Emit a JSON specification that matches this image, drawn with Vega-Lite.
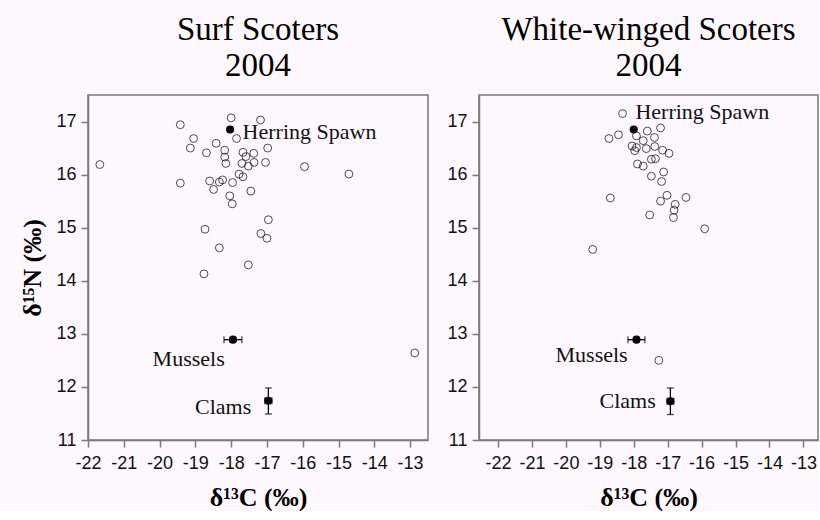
{
  "$schema": "https://vega.github.io/schema/vega-lite/v6.json",
  "background": "#fdf8fd",
  "padding": {"left": 19, "top": 13, "right": 0, "bottom": 0},
  "spacing": 17,
  "config": {
    "view": {"stroke": "#7a7a7a", "strokeWidth": 1.5},
    "axis": {
      "grid": false, "domainColor": "#7a7a7a", "domainWidth": 1.5, "tickColor": "#7a7a7a", "tickWidth": 1.5, "tickSize": 7,
      "labelFont": "Liberation Sans", "labelFontSize": 18, "labelColor": "#111111", "labelOverlap": false, "labelFlush": false,
      "titleFont": "Liberation Serif", "titleFontSize": 26, "titleFontWeight": "bold", "titleColor": "#000000"
    },
    "axisX": {"labelPadding": 7, "titlePadding": 12},
    "axisY": {"labelPadding": 5, "titlePadding": 10},
    "title": {"font": "Liberation Serif", "fontSize": 33, "fontWeight": "normal", "color": "#000000", "lineHeight": 36, "offset": 12, "anchor": "middle"},
    "text": {"font": "Liberation Serif", "fontSize": 22, "color": "#111111"}
  },
  "hconcat": [
    {
      "width": 340,
      "height": 345,
      "title": {"text": ["Surf Scoters", "2004"]},
      "layer": [
        {
          "data": {"values": [
            {"x": -21.67, "y": 16.19}, {"x": -19.42, "y": 16.94}, {"x": -18.0, "y": 17.07}, {"x": -17.18, "y": 17.03},
            {"x": -17.85, "y": 16.68}, {"x": -19.05, "y": 16.68}, {"x": -19.14, "y": 16.5}, {"x": -18.42, "y": 16.59},
            {"x": -18.69, "y": 16.41}, {"x": -18.18, "y": 16.46}, {"x": -18.18, "y": 16.33}, {"x": -18.15, "y": 16.21},
            {"x": -17.67, "y": 16.42}, {"x": -17.59, "y": 16.34}, {"x": -17.37, "y": 16.4}, {"x": -16.98, "y": 16.5},
            {"x": -17.7, "y": 16.21}, {"x": -17.52, "y": 16.16}, {"x": -17.36, "y": 16.23}, {"x": -17.04, "y": 16.23},
            {"x": -15.95, "y": 16.15}, {"x": -14.71, "y": 16.01}, {"x": -19.42, "y": 15.84}, {"x": -18.6, "y": 15.88},
            {"x": -18.24, "y": 15.9}, {"x": -18.49, "y": 15.72}, {"x": -17.96, "y": 15.85}, {"x": -17.78, "y": 16.01},
            {"x": -17.67, "y": 15.96}, {"x": -17.45, "y": 15.69}, {"x": -18.04, "y": 15.6}, {"x": -17.97, "y": 15.45},
            {"x": -16.96, "y": 15.15}, {"x": -18.73, "y": 14.97}, {"x": -17.17, "y": 14.89}, {"x": -17.0, "y": 14.8},
            {"x": -18.33, "y": 14.62}, {"x": -17.52, "y": 14.3}, {"x": -18.76, "y": 14.13}, {"x": -18.33, "y": 15.86},
            {"x": -12.87, "y": 12.64}
          ]},
          "mark": {"type": "point", "shape": "circle", "filled": false, "color": "#000000", "size": 62, "strokeWidth": 1},
          "encoding": {
            "x": {"field": "x", "type": "quantitative", "scale": {"domain": [-22, -12.5], "nice": false, "zero": false},
                  "axis": {"title": "δ¹³C (‰)", "values": [-22, -21, -20, -19, -18, -17, -16, -15, -14, -13], "labelExpr": "'' + datum.value", "labelOverlap": false}},
            "y": {"field": "y", "type": "quantitative", "scale": {"domain": [11, 17.5], "nice": false, "zero": false},
                  "axis": {"title": "δ¹⁵N (‰)", "values": [11, 12, 13, 14, 15, 16, 17], "labelOverlap": false}}
          }
        },
        {
          "data": {"values": [
            {"name": "Mussels", "x": -18.2, "x2": -17.7, "y": 12.89},
            {"name": "Clams", "x": -17.06, "x2": -16.86, "y": 11.74}
          ]},
          "mark": {"type": "errorbar", "ticks": {"size": 7, "color": "#000000", "thickness": 1.3}, "rule": {"color": "#000000", "strokeWidth": 1.3}},
          "encoding": {
            "x": {"field": "x", "type": "quantitative", "scale": {"domain": [-22, -12.5], "nice": false, "zero": false},
                  "axis": {"title": "δ¹³C (‰)", "values": [-22, -21, -20, -19, -18, -17, -16, -15, -14, -13], "labelExpr": "'' + datum.value", "labelOverlap": false}},
            "x2": {"field": "x2"},
            "y": {"field": "y", "type": "quantitative", "scale": {"domain": [11, 17.5], "nice": false, "zero": false},
                  "axis": {"title": "δ¹⁵N (‰)", "values": [11, 12, 13, 14, 15, 16, 17], "labelOverlap": false}}
          }
        },
        {
          "data": {"values": [
            {"name": "Mussels", "x": -17.95, "y": 12.85, "y2": 12.93},
            {"name": "Clams", "x": -16.96, "y": 11.49, "y2": 11.98}
          ]},
          "mark": {"type": "errorbar", "ticks": {"size": 7, "color": "#000000", "thickness": 1.3}, "rule": {"color": "#000000", "strokeWidth": 1.3}},
          "encoding": {
            "x": {"field": "x", "type": "quantitative", "scale": {"domain": [-22, -12.5], "nice": false, "zero": false},
                  "axis": {"title": "δ¹³C (‰)", "values": [-22, -21, -20, -19, -18, -17, -16, -15, -14, -13], "labelExpr": "'' + datum.value", "labelOverlap": false}},
            "y": {"field": "y", "type": "quantitative", "scale": {"domain": [11, 17.5], "nice": false, "zero": false},
                  "axis": {"title": "δ¹⁵N (‰)", "values": [11, 12, 13, 14, 15, 16, 17], "labelOverlap": false}},
            "y2": {"field": "y2"}
          }
        },
        {
          "data": {"values": [
            {"name": "Herring Spawn", "x": -18.03, "y": 16.85},
            {"name": "Mussels", "x": -17.95, "y": 12.89},
            {"name": "Clams", "x": -16.96, "y": 11.74}
          ]},
          "mark": {"type": "point", "shape": "circle", "filled": true, "color": "#000000", "opacity": 1, "size": 66},
          "encoding": {
            "x": {"field": "x", "type": "quantitative", "scale": {"domain": [-22, -12.5], "nice": false, "zero": false},
                  "axis": {"title": "δ¹³C (‰)", "values": [-22, -21, -20, -19, -18, -17, -16, -15, -14, -13], "labelExpr": "'' + datum.value", "labelOverlap": false}},
            "y": {"field": "y", "type": "quantitative", "scale": {"domain": [11, 17.5], "nice": false, "zero": false},
                  "axis": {"title": "δ¹⁵N (‰)", "values": [11, 12, 13, 14, 15, 16, 17], "labelOverlap": false}}
          }
        },
        {
          "data": {"values": [
            {"label": "Herring Spawn", "x": -17.68, "y": 16.81, "side": "left"},
            {"label": "Mussels", "x": -18.18, "y": 12.53, "side": "right"},
            {"label": "Clams", "x": -17.44, "y": 11.62, "side": "right"}
          ]},
          "mark": {"type": "text", "baseline": "middle", "align": {"expr": "datum.side"}},
          "encoding": {
            "x": {"field": "x", "type": "quantitative", "scale": {"domain": [-22, -12.5], "nice": false, "zero": false},
                  "axis": {"title": "δ¹³C (‰)", "values": [-22, -21, -20, -19, -18, -17, -16, -15, -14, -13], "labelExpr": "'' + datum.value", "labelOverlap": false}},
            "y": {"field": "y", "type": "quantitative", "scale": {"domain": [11, 17.5], "nice": false, "zero": false},
                  "axis": {"title": "δ¹⁵N (‰)", "values": [11, 12, 13, 14, 15, 16, 17], "labelOverlap": false}},
            "text": {"field": "label"}
          }
        }
      ]
    },
    {
      "width": 339,
      "height": 345,
      "title": {"text": ["White-winged Scoters", "2004"]},
      "layer": [
        {
          "data": {"values": [
            {"x": -18.33, "y": 17.15}, {"x": -18.73, "y": 16.68}, {"x": -18.45, "y": 16.75}, {"x": -17.6, "y": 16.82},
            {"x": -17.21, "y": 16.88}, {"x": -17.92, "y": 16.73}, {"x": -17.39, "y": 16.7}, {"x": -17.72, "y": 16.64},
            {"x": -18.05, "y": 16.54}, {"x": -17.92, "y": 16.51}, {"x": -17.97, "y": 16.45}, {"x": -17.63, "y": 16.49},
            {"x": -17.38, "y": 16.53}, {"x": -17.15, "y": 16.46}, {"x": -16.96, "y": 16.4}, {"x": -17.48, "y": 16.29},
            {"x": -17.36, "y": 16.3}, {"x": -17.89, "y": 16.2}, {"x": -17.72, "y": 16.16}, {"x": -17.12, "y": 16.05},
            {"x": -17.48, "y": 15.97}, {"x": -17.18, "y": 15.87}, {"x": -18.69, "y": 15.56}, {"x": -17.02, "y": 15.61},
            {"x": -16.46, "y": 15.57}, {"x": -17.21, "y": 15.5}, {"x": -16.78, "y": 15.44}, {"x": -16.81, "y": 15.33},
            {"x": -16.83, "y": 15.19}, {"x": -17.53, "y": 15.24}, {"x": -15.91, "y": 14.98}, {"x": -19.21, "y": 14.59},
            {"x": -17.26, "y": 12.5}
          ]},
          "mark": {"type": "point", "shape": "circle", "filled": false, "color": "#000000", "size": 62, "strokeWidth": 1},
          "encoding": {
            "x": {"field": "x", "type": "quantitative", "scale": {"domain": [-22.56, -12.57], "nice": false, "zero": false},
                  "axis": {"title": "δ¹³C (‰)", "values": [-22, -21, -20, -19, -18, -17, -16, -15, -14, -13], "labelExpr": "'' + datum.value", "labelOverlap": false}},
            "y": {"field": "y", "type": "quantitative", "scale": {"domain": [11, 17.5], "nice": false, "zero": false},
                  "axis": {"title": null, "values": [11, 12, 13, 14, 15, 16, 17], "labelOverlap": false}}
          }
        },
        {
          "data": {"values": [
            {"name": "Mussels", "x": -18.17, "x2": -17.67, "y": 12.89},
            {"name": "Clams", "x": -17.02, "x2": -16.82, "y": 11.73}
          ]},
          "mark": {"type": "errorbar", "ticks": {"size": 7, "color": "#000000", "thickness": 1.3}, "rule": {"color": "#000000", "strokeWidth": 1.3}},
          "encoding": {
            "x": {"field": "x", "type": "quantitative", "scale": {"domain": [-22.56, -12.57], "nice": false, "zero": false},
                  "axis": {"title": "δ¹³C (‰)", "values": [-22, -21, -20, -19, -18, -17, -16, -15, -14, -13], "labelExpr": "'' + datum.value", "labelOverlap": false}},
            "x2": {"field": "x2"},
            "y": {"field": "y", "type": "quantitative", "scale": {"domain": [11, 17.5], "nice": false, "zero": false},
                  "axis": {"title": null, "values": [11, 12, 13, 14, 15, 16, 17], "labelOverlap": false}}
          }
        },
        {
          "data": {"values": [
            {"name": "Mussels", "x": -17.92, "y": 12.85, "y2": 12.93},
            {"name": "Clams", "x": -16.92, "y": 11.48, "y2": 11.98}
          ]},
          "mark": {"type": "errorbar", "ticks": {"size": 7, "color": "#000000", "thickness": 1.3}, "rule": {"color": "#000000", "strokeWidth": 1.3}},
          "encoding": {
            "x": {"field": "x", "type": "quantitative", "scale": {"domain": [-22.56, -12.57], "nice": false, "zero": false},
                  "axis": {"title": "δ¹³C (‰)", "values": [-22, -21, -20, -19, -18, -17, -16, -15, -14, -13], "labelExpr": "'' + datum.value", "labelOverlap": false}},
            "y": {"field": "y", "type": "quantitative", "scale": {"domain": [11, 17.5], "nice": false, "zero": false},
                  "axis": {"title": null, "values": [11, 12, 13, 14, 15, 16, 17], "labelOverlap": false}},
            "y2": {"field": "y2"}
          }
        },
        {
          "data": {"values": [
            {"name": "Herring Spawn", "x": -18.0, "y": 16.85},
            {"name": "Mussels", "x": -17.92, "y": 12.89},
            {"name": "Clams", "x": -16.92, "y": 11.73}
          ]},
          "mark": {"type": "point", "shape": "circle", "filled": true, "color": "#000000", "opacity": 1, "size": 66},
          "encoding": {
            "x": {"field": "x", "type": "quantitative", "scale": {"domain": [-22.56, -12.57], "nice": false, "zero": false},
                  "axis": {"title": "δ¹³C (‰)", "values": [-22, -21, -20, -19, -18, -17, -16, -15, -14, -13], "labelExpr": "'' + datum.value", "labelOverlap": false}},
            "y": {"field": "y", "type": "quantitative", "scale": {"domain": [11, 17.5], "nice": false, "zero": false},
                  "axis": {"title": null, "values": [11, 12, 13, 14, 15, 16, 17], "labelOverlap": false}}
          }
        },
        {
          "data": {"values": [
            {"label": "Herring Spawn", "x": -17.95, "y": 17.18, "side": "left"},
            {"label": "Mussels", "x": -18.18, "y": 12.61, "side": "right"},
            {"label": "Clams", "x": -17.35, "y": 11.73, "side": "right"}
          ]},
          "mark": {"type": "text", "baseline": "middle", "align": {"expr": "datum.side"}},
          "encoding": {
            "x": {"field": "x", "type": "quantitative", "scale": {"domain": [-22.56, -12.57], "nice": false, "zero": false},
                  "axis": {"title": "δ¹³C (‰)", "values": [-22, -21, -20, -19, -18, -17, -16, -15, -14, -13], "labelExpr": "'' + datum.value", "labelOverlap": false}},
            "y": {"field": "y", "type": "quantitative", "scale": {"domain": [11, 17.5], "nice": false, "zero": false},
                  "axis": {"title": null, "values": [11, 12, 13, 14, 15, 16, 17], "labelOverlap": false}},
            "text": {"field": "label"}
          }
        }
      ]
    }
  ]
}
